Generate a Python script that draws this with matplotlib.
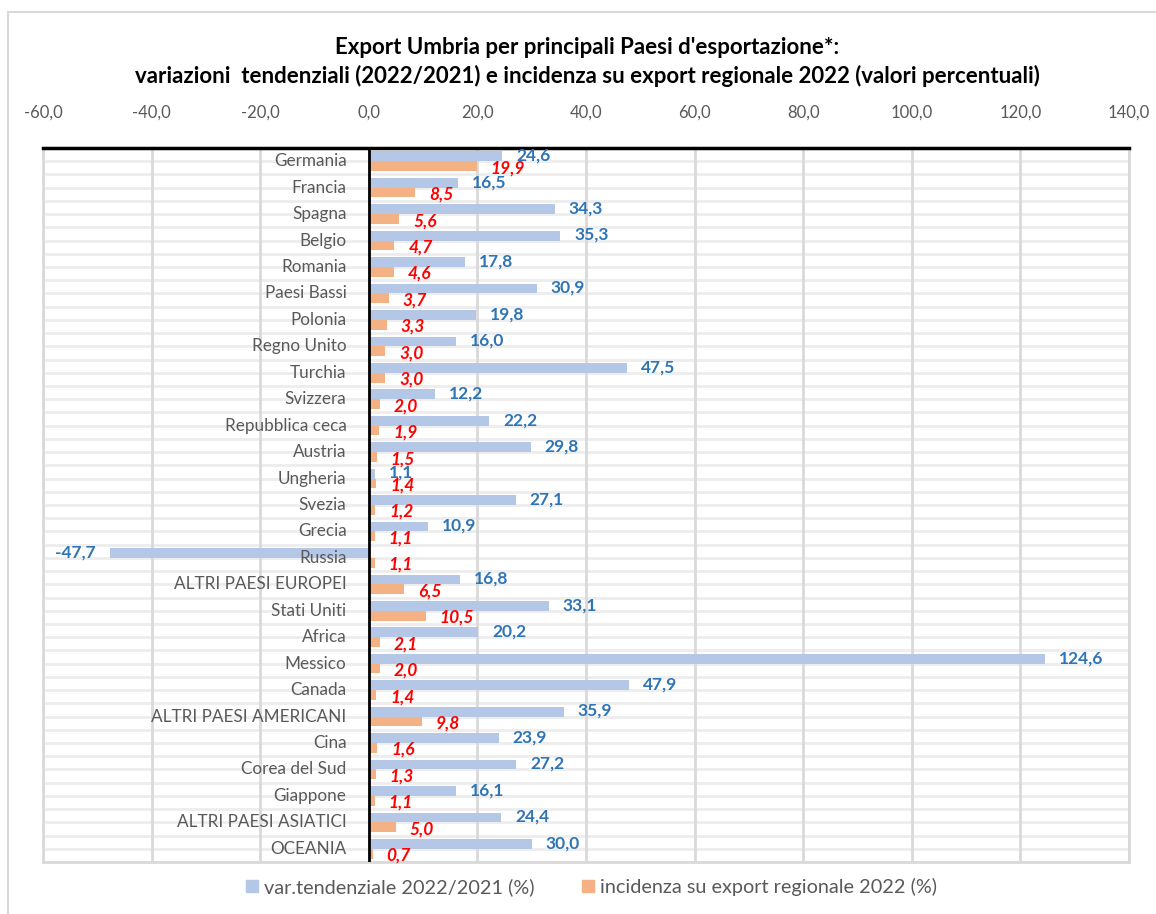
import matplotlib.pyplot as plt
from matplotlib.patches import Rectangle, Patch
from matplotlib.ticker import FuncFormatter, MultipleLocator

# -----------------------------
# Data
# -----------------------------

paesi = [
    "Germania", "Francia", "Spagna", "Belgio", "Romania", "Paesi Bassi",
    "Polonia", "Regno Unito", "Turchia", "Svizzera", "Repubblica ceca",
    "Austria", "Ungheria", "Svezia", "Grecia", "Russia",
    "ALTRI PAESI EUROPEI", "Stati Uniti", "Africa", "Messico", "Canada",
    "ALTRI PAESI AMERICANI", "Cina", "Corea del Sud", "Giappone",
    "ALTRI PAESI ASIATICI", "OCEANIA",
]

var_tend = [
    24.6, 16.5, 34.3, 35.3, 17.8, 30.9, 19.8, 16.0, 47.5, 12.2, 22.2,
    29.8, 1.1, 27.1, 10.9, -47.7, 16.8, 33.1, 20.2, 124.6, 47.9, 35.9,
    23.9, 27.2, 16.1, 24.4, 30.0,
]

incidenza = [
    19.9, 8.5, 5.6, 4.7, 4.6, 3.7, 3.3, 3.0, 3.0, 2.0, 1.9, 1.5, 1.4,
    1.2, 1.1, 1.1, 6.5, 10.5, 2.1, 2.0, 1.4, 9.8, 1.6, 1.3, 1.1, 5.0, 0.7,
]

titolo = ("Export Umbria per principali Paesi d'esportazione*:\n"
          "variazioni  tendenziali (2022/2021) e incidenza su export regionale 2022 (valori percentuali)")
leg_labels = ["var.tendenziale 2022/2021 (%)", "incidenza su export regionale 2022 (%)"]

# -----------------------------
# Style
# -----------------------------

BLUE = "#B4C7E7"
ORANGE = "#F4B183"
BLUE_TXT = "#2E75B6"
RED_TXT = "#FF0000"
GREY_TXT = "#595959"
plt.rcParams["font.family"] = ["Lato", "DejaVu Sans"]


def fmt(v):
    return f"{v:.1f}".replace(".", ",")


# -----------------------------
# Plot
# -----------------------------

fig = plt.figure(figsize=(11.56, 9.14), dpi=100)
ax = fig.add_axes([43 / 1156, 1 - 862 / 914, (1129 - 43) / 1156, (862 - 148) / 914])

n = len(paesi)
y = list(range(n))
h = 0.37

ax.barh([i - h / 2 for i in y], var_tend, height=h, color=BLUE, zorder=3)
ax.barh([i + h / 2 for i in y], incidenza, height=h, color=ORANGE, zorder=3)

ax.set_xlim(-60, 140)
ax.set_ylim(n - 0.5, -0.5)

# gridlines
ax.xaxis.set_major_locator(MultipleLocator(20))
ax.grid(axis="x", color="#D9D9D9", linewidth=2, zorder=0)
for k in range(2 * n + 1):
    ax.axhline(-0.5 + k * 0.5, color="#EDEDED", linewidth=2, zorder=0)
ax.axvline(0, color="black", linewidth=2, zorder=4)

for s in ["left", "right", "bottom"]:
    ax.spines[s].set_color("#D9D9D9")
    ax.spines[s].set_linewidth(2)
ax.spines["top"].set_color("black")
ax.spines["top"].set_linewidth(2.5)

ax.xaxis.tick_top()
ax.xaxis.set_major_formatter(FuncFormatter(lambda v, p: fmt(v)))
ax.tick_params(axis="x", length=0, pad=20, labelsize=12, labelcolor=GREY_TXT)
ax.set_yticks([])

# category labels next to zero line
for i, name in enumerate(paesi):
    ax.annotate(name, xy=(0, i), xytext=(-16, 0), textcoords="offset points",
                ha="right", va="center", fontsize=12.3, color=GREY_TXT, zorder=5)

# value labels
for i, v in enumerate(var_tend):
    off = 10 if v >= 0 else -10
    ax.annotate(fmt(v), xy=(v, i - h / 2), xytext=(off, 0.5), textcoords="offset points",
                ha="left" if v >= 0 else "right", va="center", fontsize=12.5,
                fontweight="bold", color=BLUE_TXT, zorder=6)
for i, v in enumerate(incidenza):
    ax.annotate(fmt(v), xy=(v, i + h / 2), xytext=(10, -1.5), textcoords="offset points",
                ha="left", va="center", fontsize=12.5, fontweight="bold",
                fontstyle="italic", color=RED_TXT, zorder=6)

fig.text(0.508, 1 - 62 / 914, titolo, ha="center", va="center", fontsize=16,
         fontweight="bold", color="black", linespacing=1.35)

handles = [Patch(color=BLUE), Patch(color=ORANGE)]
fig.legend(handles, leg_labels, loc="center", bbox_to_anchor=(0.512, 1 - 887 / 914),
           ncol=2, frameon=False, fontsize=14.3, labelcolor=GREY_TXT,
           handlelength=0.6, handleheight=0.6, handletextpad=0.3, columnspacing=2.4)

# outer chart border
fig.patches.append(Rectangle((8 / 1156, -0.01), 1.2, 1 - 12 / 914 + 0.01,
                             transform=fig.transFigure, fill=False,
                             edgecolor="#D9D9D9", linewidth=1.5))

plt.savefig("out.png", dpi=100)
